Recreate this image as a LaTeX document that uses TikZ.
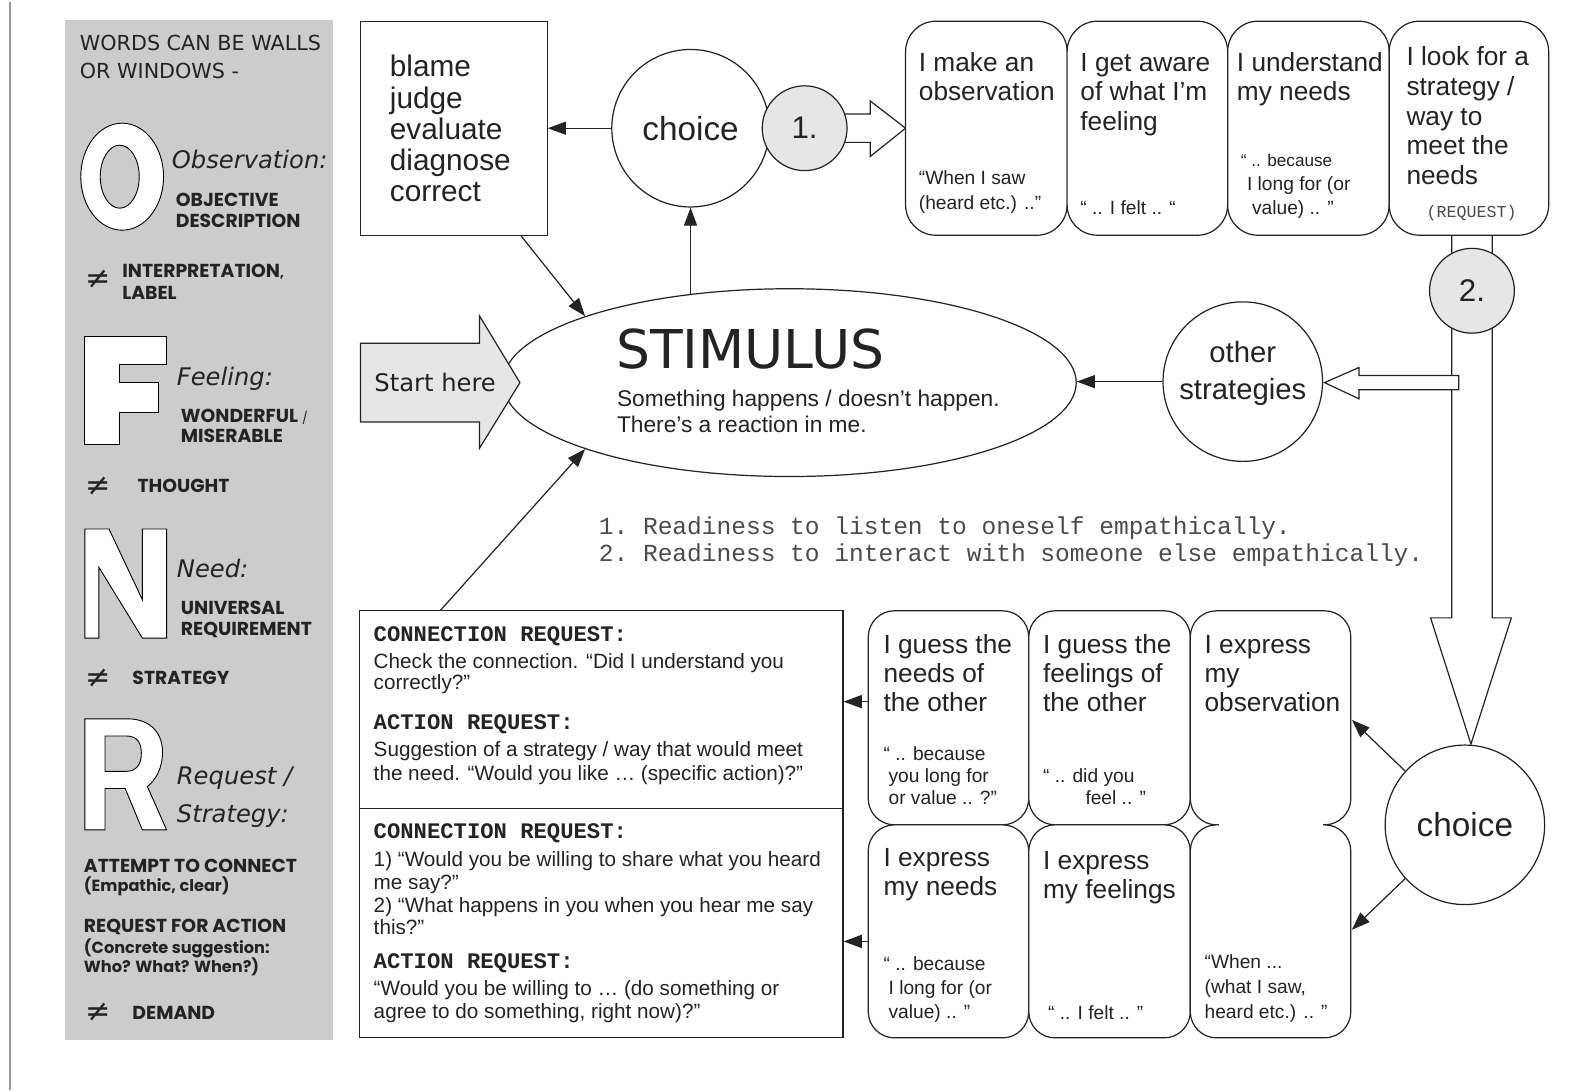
\documentclass[tikz,border=0pt]{standalone}
\usepackage{fontspec}
\setmainfont{Liberation Sans}
\setmonofont{Liberation Mono}
\newfontfamily\comic{DejaVu Sans}
\newfontfamily\futura{Poppins}
\newfontfamily\symf{DejaVu Sans}
\usetikzlibrary{arrows.meta,shapes.geometric}
\definecolor{panel}{RGB}{204,204,204}
\definecolor{lgray}{RGB}{230,230,230}
\definecolor{ink}{RGB}{35,35,35}
\definecolor{monoc}{RGB}{75,75,75}
\newcommand\fsz[2]{\fontsize{#1pt}{#2pt}\selectfont}
\newcommand\stk[2]{\vtop{\baselineskip=#1pt\lineskiplimit=-100pt\lineskip=0pt #2}}
\newcommand\hl[1]{\hbox{#1}}
\newcommand\fbig{\fsz{26}{29}}
\newcommand\fsm{\fsz{19}{25}}
\newcommand\hdf{\futura\bfseries\fsz{18.6}{20}}
\newcommand\hds{\futura\bfseries\fsz{16}{19}}
\newcommand\cit{\comic\itshape\fsz{24}{28}}
\newcommand\neqf{\symf\fsz{30}{30}}
\newcommand\body{\fsz{20.5}{22}}
\newcommand\mb{\ttfamily\bfseries\fsz{22}{24}}
\begin{document}
\begin{tikzpicture}[x=1pt,y=-1pt,
  ln/.style={line width=1.2pt, draw=ink},
  arr/.style={ln, -{Triangle[length=18pt,width=13pt]}},
  tx/.style={anchor=base west, inner sep=0pt, text=ink},
  letter/.style={draw=black, line width=0.9pt, fill=white, even odd rule},
  sqbox/.style={ln, rectangle, fill=white, inner sep=0pt},
  rtop/.style={ln, rectangle, rounded corners=30pt, fill=white, inner sep=0pt, minimum height=212pt},
  rbot/.style={ln, rectangle, rounded corners=26pt, fill=white, inner sep=0pt},
  circ/.style={ln, circle, fill=white, inner sep=0pt},
  numc/.style={ln, circle, fill=lgray, inner sep=0pt, minimum size=84pt, font=\fsz{31}{31}, text=ink},
  hollow/.style={ln, fill=white, line join=miter}
]
\useasboundingbox (0,0) rectangle (1568,1080);
% left margin line
\draw[black!40, line width=2pt] (10,2) -- (10,1080);
% ---------------- panel
\fill[panel] (64,20) rectangle (330,1030);
\node[tx,font=\comic\fsz{20.5}{24}] (w1) at (79,50) {WORDS CAN BE WALLS};
\node[tx,font=\comic\fsz{20.5}{24}] (w2) at (79,78) {OR WINDOWS -};
% O
\draw[letter] (121,175) ellipse [x radius=41pt, y radius=53pt]
              (118.6,175) ellipse [x radius=19.3pt, y radius=31.2pt];
\node[tx,font=\cit] (obs) at (170,167) {Observation:};
\node[tx,font=\hdf] (obj1) at (174,205) {OBJECTIVE};
\node[tx,font=\hdf] (obj2) at (174,225) {DESCRIPTION};
\node[tx,font=\neqf] (ne1) at (84,286) {≠};
\node[tx,font=\hdf] (int) at (121,275) {\stk{22}{\hl{INTERPRETATION{\fsz{13}{13},}}\hl{LABEL}}};
% F
\draw[letter] (84,333) -- (165,333) -- (165,361) -- (118.5,361) -- (118.5,379) -- (157,379)
  -- (157,409) -- (118.5,409) -- (118.5,440) -- (84,440) -- cycle;
\node[tx,font=\cit] (fee) at (175,382) {Feeling:};
\node[tx,font=\hdf] (won1) at (179,418) {WONDERFUL {\fsz{12}{12}\mdseries/}};
\node[tx,font=\hdf] (won2) at (179,438) {MISERABLE};
\node[tx,font=\neqf] (ne2) at (84,491) {≠};
\node[tx,font=\hdf] (tho) at (136,488) {THOUGHT};
% N
\draw[letter] (84,524) -- (108,524) -- (141,594) -- (141,524) -- (165,524) -- (165,632)
  -- (141,632) -- (98,562) -- (98,632) -- (84,632) -- cycle;
\node[tx,font=\cit] (need) at (175,572) {Need:};
\node[tx,font=\hdf] (uni1) at (179,609) {UNIVERSAL};
\node[tx,font=\hdf] (uni2) at (179,629) {REQUIREMENT};
\node[tx,font=\neqf] (ne3) at (84,681) {≠};
\node[tx,font=\hdf] (stra) at (131,678) {STRATEGY};
% R
\draw[letter] (84,712) -- (126,712) .. controls (150,712) and (161,727) .. (161,745)
  .. controls (161,761) and (154,773) .. (146,779) -- (165,822) -- (141,822) -- (124,781)
  -- (104,781) -- (104,822) -- (84,822) -- cycle
  (104,729) -- (125,729) .. controls (136,729) and (140,736) .. (140,746)
  .. controls (140,756) and (136,764) .. (125,764) -- (104,764) -- cycle;
\node[tx,font=\cit] (req1) at (175,777) {Request /};
\node[tx,font=\cit] (req2) at (175,815) {Strategy:};
\node[tx,font=\hdf] (att1) at (83,864) {ATTEMPT TO CONNECT};
\node[tx,font=\hds] (att2) at (83,883) {(Empathic, clear)};
\node[tx,font=\hdf] (rfa1) at (83,924) {REQUEST FOR ACTION};
\node[tx,font=\hds] (rfa2) at (83,944) {(Concrete suggestion:};
\node[tx,font=\hds] (rfa3) at (83,963) {Who? What? When?)};
\node[tx,font=\neqf] (ne4) at (84,1012) {≠};
\node[tx,font=\hdf] (dem) at (131,1010) {DEMAND};
% ---------------- top row
\node[sqbox, minimum width=185pt, minimum height=212pt] (blame) at (449.5,127) {};
\node[tx,font=\fsz{29.5}{31}] (blt) at (386,76) {\stk{31}{\hl{blame}\hl{judge}\hl{evaluate}\hl{diagnose}\hl{correct}}};
\node[circ, minimum size=156pt, font=\fsz{33}{33}, text=ink] (choice1) at (684,127) {choice};
\draw[hollow] (830,113) -- (862,113) -- (862,100) -- (897,127) -- (862,155) -- (862,141) -- (830,141) -- cycle;
\node[numc] (one) at (797,127) {1.};
\draw[arr] (choice1.west) -- (choice1.west -| blame.east);
% top boxes
\draw[hollow] (1438,233) -- (1438,612) -- (1417,612) -- (1457,737) -- (1497,612) -- (1478,612) -- (1478,233);
\node[rtop, minimum width=160pt] (tb1) at (977,127) {};
\node[rtop, minimum width=159pt] (tb2) at (1136.5,127) {};
\node[rtop, minimum width=160pt] (tb3) at (1296,127) {};
\node[rtop, minimum width=158pt] (tb4) at (1455,127) {};
\node[tx,font=\fbig] (tb1t) at (910,71) {\stk{29}{\hl{I make an}\hl{observation}}};
\node[tx,font=\fsm] (tb1s) at (910,183) {\stk{25}{\hl{“When I saw}\hl{(heard etc.) ..”}}};
\node[tx,font=\fbig] (tb2t) at (1070,71) {\stk{29}{\hl{I get aware}\hl{of what I'm}\hl{feeling}}};
\node[tx,font=\fsm] (tb2s) at (1070,212) {“ .. I felt .. “};
\node[tx,font=\fbig] (tb3t) at (1225,71) {\stk{29}{\hl{I understand}\hl{my needs}}};
\node[tx,font=\fsz{17}{22}] (tb3s1) at (1229,165) {“ .. because};
\node[tx,font=\fsm] (tb3s2) at (1235,189) {\stk{23}{\hl{I long for (or}\hl{\hspace{5pt}value) .. ”}}};
\node[tx,font=\fbig] (tb4t) at (1393,65) {\stk{29.5}{\hl{I look for a}\hl{strategy /}\hl{way to}\hl{meet the}\hl{needs}}};
\node[tx,font=\ttfamily\fsz{16.5}{20}, text=monoc] (tb4s) at (1413,215) {(REQUEST)};
\node[numc] (two) at (1458,288) {2.};
% other strategies
\draw[hollow] (1445,372) -- (1346,372) -- (1346,364) -- (1312,379) -- (1346,395) -- (1346,386) -- (1445,386) -- cycle;
\node[circ, minimum size=158pt] (other) at (1231,378) {};
\node[font=\fsz{29}{36}, align=center, text=ink, inner sep=0pt] (othert) at (1231,370) {other\\strategies};
% ---------------- stimulus
\node[ln, ellipse, fill=white, minimum width=568pt, minimum height=186pt, inner sep=0pt] (stim) at (782,379) {};
\node[tx,font=\comic\fsz{53}{53}] (stimt) at (610,365) {STIMULUS};
\node[tx,font=\fsz{22.5}{25}] (stims) at (611,403) {\stk{25}{\hl{Something happens / doesn't happen.}\hl{There's a reaction in me.}}};
\draw[ln, fill=lgray, line join=miter] (357,340) -- (475,340) -- (475,313) -- (515,379) -- (475,444) -- (475,418) -- (357,418) -- cycle;
\node[font=\comic\fsz{24}{24}, text=ink, inner sep=0pt] (start) at (431,379) {Start here};
\coordinate (sTop) at (684,292);
\draw[arr] (other.west) -- (other.west -| stim.east);
\draw[arr] (sTop) -- (choice1.south);
\draw[arr] (blame.-58.3) -- (stim.162);
% readiness
\node[tx,font=\ttfamily\fsz{24.3}{27}, text=monoc] (ready) at (593,529) {\stk{27}{\hl{1. Readiness to listen to oneself empathically.}\hl{2. Readiness to interact with someone else empathically.}}};
% ---------------- bottom left box
\node[sqbox, minimum width=479pt, minimum height=423pt] (bigbox) at (595.5,816.5) {};
\coordinate (divL) at (356,801);
\draw[ln] (divL) -- (divL -| bigbox.east);
\draw[arr] ([xshift=81pt]bigbox.north west) -- (stim.198);
\node[tx,font=\mb] (cr1) at (370,635) {CONNECTION REQUEST:};
\node[tx,font=\body] (cr1t) at (370,662) {\stk{21}{\hl{Check the connection. “Did I understand you}\hl{correctly?”}}};
\node[tx,font=\mb] (ar1) at (370,723) {ACTION REQUEST:};
\node[tx,font=\body] (ar1t) at (370,749) {\stk{24}{\hl{Suggestion of a strategy / way that would meet}\hl{the need. “Would you like … (specific action)?”}}};
\node[tx,font=\mb] (cr2) at (370,831) {CONNECTION REQUEST:};
\node[tx,font=\body] (cr2t) at (370,858) {\stk{22.7}{\hl{1) “Would you be willing to share what you heard}\hl{me say?”}\hl{2) “What happens in you when you hear me say}\hl{this?”}}};
\node[tx,font=\mb] (ar2) at (370,959) {ACTION REQUEST:};
\node[tx,font=\body] (ar2t) at (370,986) {\stk{23}{\hl{“Would you be willing to … (do something or}\hl{agree to do something, right now)?”}}};
% ---------------- bottom boxes
\node[rbot, minimum width=159pt, minimum height=212pt] (g1) at (939.5,711) {};
\node[rbot, minimum width=160pt, minimum height=212pt] (g2) at (1099,711) {};
\node[rbot, minimum width=159pt, minimum height=211pt] (e1) at (939.5,922.5) {};
\node[rbot, minimum width=160pt, minimum height=211pt] (e2) at (1099,922.5) {};
\node[rbot, minimum width=159pt, minimum height=212pt] (obsT) at (1258.5,711) {};
\node[rbot, minimum width=159pt, minimum height=211pt] (obsB) at (1258.5,922.5) {};
\fill[white] (1207,812) rectangle (1310,822);
\node[tx,font=\fbig] (g1t) at (875,647) {\stk{29}{\hl{I guess the}\hl{needs of}\hl{the other}}};
\node[tx,font=\fsm] (g1s) at (875,753) {\stk{22}{\hl{“ .. because}\hl{\hspace{5pt}you long for}\hl{\hspace{5pt}or value .. ?”}}};
\node[tx,font=\fbig] (g2t) at (1033,647) {\stk{29}{\hl{I guess the}\hl{feelings of}\hl{the other}}};
\node[tx,font=\fsm] (g2s) at (1033,775) {\stk{22}{\hl{“ .. did you}\hl{\hspace{42pt}feel .. ”}}};
\node[tx,font=\fbig] (ot) at (1193,647) {\stk{29}{\hl{I express}\hl{my}\hl{observation}}};
\node[tx,font=\fsm] (os) at (1193,959) {\stk{25}{\hl{“When ...}\hl{(what I saw,}\hl{heard etc.) .. ”}}};
\node[tx,font=\fbig] (e1t) at (875,858) {\stk{29}{\hl{I express}\hl{my needs}}};
\node[tx,font=\fsm] (e1s) at (875,961) {\stk{24}{\hl{“ .. because}\hl{\hspace{5pt}I long for (or}\hl{\hspace{5pt}value) .. ”}}};
\node[tx,font=\fbig] (e2t) at (1033,861) {\stk{29}{\hl{I express}\hl{my feelings}}};
\node[tx,font=\fsm] (e2s) at (1038,1010) {“ .. I felt .. ”};
\coordinate (ga) at ([yshift=16pt]g1.west);
\coordinate (ea) at ([yshift=-10pt]e1.west);
\draw[arr] (ga) -- (ga -| bigbox.east);
\draw[arr] (ea) -- (ea -| bigbox.east);
% ---------------- choice 2
\node[circ, minimum size=158pt, font=\fsz{33}{33}, text=ink] (choice2) at (1451,817) {choice};
\coordinate (obsR1) at (1339,713);
\coordinate (obsR2) at (1339,921);
\draw[arr] (choice2.138) -- (obsR1);
\draw[arr] (choice2.222) -- (obsR2);
\end{tikzpicture}
\end{document}
